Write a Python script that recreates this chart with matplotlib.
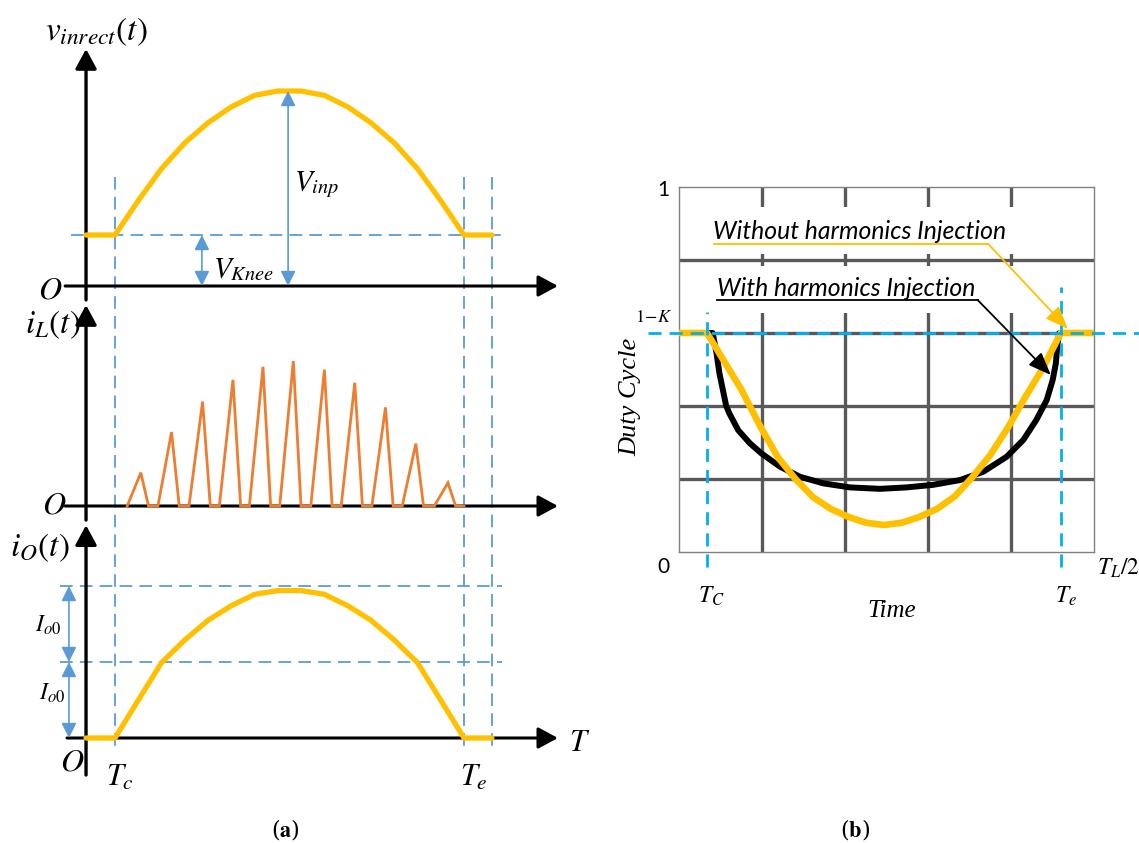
import matplotlib.pyplot as plt
from matplotlib import transforms
from matplotlib.patches import Rectangle

plt.rcParams['mathtext.fontset'] = 'stix'

W, H = 1139, 843

# ---- (a) waveforms, time normalised so that Tc = 0 and Te = 1 ----
t_origin = -0.083
t_c, t_e, t_end = 0.0, 1.0, 1.08

arc_t = [0.0, 0.067, 0.133, 0.2, 0.267, 0.333, 0.4, 0.467,
         0.533, 0.6, 0.667, 0.733, 0.8, 0.867, 0.933, 1.0]
# rectified input above the knee voltage, in units of V_inp
vin_arc = [0.0, 0.24, 0.46, 0.64, 0.78, 0.89, 0.97, 1.0,
           1.0, 0.97, 0.89, 0.78, 0.64, 0.46, 0.24, 0.0]
v_knee = 0.354
# output current, in units of I_o0
io_arc = [0.0, 0.50, 0.99, 1.29, 1.55, 1.74, 1.89, 1.94,
          1.94, 1.89, 1.74, 1.55, 1.29, 0.99, 0.50, 0.0]
io0 = 1.0
# inductor current peaks (DCM triangles), normalised to the largest one
spike_t = [0.074, 0.162, 0.251, 0.338, 0.424, 0.511, 0.600, 0.687, 0.775, 0.862, 0.954]
spike_h = [0.23, 0.51, 0.72, 0.87, 0.96, 1.0, 0.94, 0.85, 0.68, 0.43, 0.16]
t_rise, t_fall = 0.039, 0.022

# ---- (b) duty cycle over half a line period ----
b_tc, b_te = 0.0675, 0.920
one_minus_k = 0.6
gold_t = [0.0, 0.05, 0.10, 0.15, 0.20, 0.25, 0.30, 0.35, 0.40, 0.45, 0.50,
          0.55, 0.60, 0.65, 0.70, 0.75, 0.80, 0.85, 0.90, 0.95, 1.0]
gold_d = [0.600, 0.520, 0.440, 0.345, 0.260, 0.200, 0.150, 0.118, 0.096, 0.080, 0.074,
          0.080, 0.096, 0.118, 0.152, 0.205, 0.265, 0.340, 0.425, 0.505, 0.600]
black_t = [0.0, 0.016, 0.027, 0.035, 0.054, 0.063, 0.088, 0.121, 0.154, 0.206, 0.263,
           0.329, 0.404, 0.489, 0.564, 0.639, 0.715, 0.781, 0.847, 0.894, 0.931,
           0.960, 0.977, 0.986, 0.990, 0.995, 1.0]
black_d = [0.600, 0.600, 0.544, 0.490, 0.401, 0.380, 0.334, 0.298, 0.270, 0.234, 0.206,
           0.188, 0.177, 0.173, 0.177, 0.184, 0.197, 0.220, 0.261, 0.307, 0.362,
           0.416, 0.471, 0.517, 0.562, 0.599, 0.600]

GOLD = '#FFC000'
ORANGE = '#ED7D31'
LBLUE = '#5B9BD5'
CYAN = '#00B0F0'
GRID = '#595959'

fig = plt.figure(figsize=(W / 100, H / 100), dpi=100)


def add_px_axes(x0, y0, x1, y1):
    return fig.add_axes([x0 / W, 1 - y1 / H, (x1 - x0) / W, (y1 - y0) / H])


def ftext(x, y, s, **kw):
    return fig.text(x / W, 1 - y / H, s, **kw)


def panel_a_axes(y0, y1, base, scale):
    ax = add_px_axes(0, y0, 600, y1)
    ax.set_xlim(-115 / 349, 485 / 349)
    ax.set_ylim(-(y1 - base) / scale, (base - y0) / scale)
    ax.axis('off')
    return ax


def axis_arrow(ax, start, end, lw=2.4):
    ax.annotate('', xy=end, xytext=start, annotation_clip=False,
                arrowprops=dict(arrowstyle='-|>,head_length=1.2,head_width=0.65',
                                mutation_scale=10, lw=lw, color='k',
                                shrinkA=0, shrinkB=0))


def span_arrow(ax, x, y0, y1):
    ax.annotate('', xy=(x, y1), xytext=(x, y0), annotation_clip=False,
                arrowprops=dict(arrowstyle='<|-|>,head_length=0.9,head_width=0.45',
                                mutation_scale=10, lw=1.2, color=LBLUE,
                                shrinkA=0, shrinkB=0))


dash_a = dict(color=LBLUE, lw=1.3, dashes=(7, 4), clip_on=False)

ax_v = panel_a_axes(0, 298, 286, 144)
ax_i = panel_a_axes(298, 518, 506, 145)
ax_o = panel_a_axes(518, 843, 738, 76)

# axes with arrows
axis_arrow(ax_v, (t_origin, -0.097), (t_origin, 1.646))
axis_arrow(ax_v, (-0.143, 0), (1.269, 0), lw=2.2)
axis_arrow(ax_i, (t_origin, -0.097), (t_origin, 1.386))
axis_arrow(ax_i, (-0.143, 0), (1.269, 0), lw=2.2)
axis_arrow(ax_o, (t_origin, -0.487), (t_origin, 2.80))
axis_arrow(ax_o, (-0.1375, 0), (1.269, 0), lw=2.2)

# vertical dashed markers running through all three plots
trans = transforms.blended_transform_factory(ax_v.transData, fig.transFigure)
for tm in (t_c, t_e, t_end):
    ax_v.plot([tm, tm], [1 - 177 / H, 1 - 748 / H], transform=trans, **dash_a)

# rectified input voltage
ax_v.plot([-0.127, 1.11], [v_knee, v_knee], **dash_a)
ax_v.plot([t_origin] + arc_t + [t_end],
          [v_knee] + [v_knee + v for v in vin_arc] + [v_knee],
          color=GOLD, lw=3.8, solid_capstyle='round', solid_joinstyle='round',
          clip_on=False, zorder=3)
span_arrow(ax_v, 0.249, 0, v_knee)
span_arrow(ax_v, 0.496, 0, v_knee + max(vin_arc))

# inductor current
il_t, il_v = [], []
for tp, h in zip(spike_t, spike_h):
    il_t += [tp - t_rise, tp, tp + t_fall]
    il_v += [0, h, 0]
il_t.append(t_e)
il_v.append(0)
ax_i.plot(il_t, il_v, color=ORANGE, lw=2.0, solid_joinstyle='miter', zorder=3)

# output current
for lev in (io0, 2 * io0):
    ax_o.plot([-0.158, 1.11], [lev, lev], **dash_a)
ax_o.plot([t_origin] + arc_t + [t_end],
          [0] + io_arc + [0],
          color=GOLD, lw=3.8, solid_capstyle='round', solid_joinstyle='round',
          clip_on=False, zorder=3)
span_arrow(ax_o, -0.132, 0, io0)
span_arrow(ax_o, -0.132, io0, 2 * io0)

lab = dict(fontsize=24)
ftext(45, 40, r'$v_{inrect}(t)$', ha='left', va='baseline', **lab)
ftext(50, 290, r'$O$', ha='center', va='center', fontsize=23)
ftext(25, 333, r'$i_L(t)$', ha='left', va='baseline', **lab)
ftext(54, 505, r'$O$', ha='center', va='center', fontsize=23)
ftext(10, 556, r'$i_O(t)$', ha='left', va='baseline', **lab)
ftext(72, 762, r'$O$', ha='center', va='center', fontsize=23)
ftext(294, 190, r'$V_{inp}$', ha='left', va='baseline', fontsize=21)
ftext(213, 277, r'$V_{Knee}$', ha='left', va='baseline', fontsize=21)
ftext(35, 632, r'$I_{o0}$', ha='left', va='baseline', fontsize=17)
ftext(39, 700, r'$I_{o0}$', ha='left', va='baseline', fontsize=17)
ftext(106, 786, r'$T_c$', ha='left', va='baseline', fontsize=22)
ftext(460, 786, r'$T_e$', ha='left', va='baseline', fontsize=22)
ftext(569, 751, r'$T$', ha='left', va='baseline', fontsize=22)
ftext(285, 837, r'($\mathbf{a}$)', ha='center', va='baseline', fontsize=16,
      family='DejaVu Serif')

# ---- (b) ----
ax_b = add_px_axes(679, 187, 1094, 552)
ax_b.set_xlim(0, 1)
ax_b.set_ylim(0, 1)
ax_b.set_xticks([])
ax_b.set_yticks([])
for sp in ax_b.spines.values():
    sp.set_color('#808080')
    sp.set_linewidth(1.0)

for g in (0.2, 0.4, 0.6, 0.8):
    ax_b.axvline(g, color=GRID, lw=2.4, zorder=1)
# white label boxes hide the vertical grid behind the annotations
for y0, y1 in ((0.816, 0.945), (0.655, 0.784)):
    ax_b.add_patch(Rectangle((0.063, y0), 0.783, y1 - y0, facecolor='white',
                             edgecolor='none', zorder=1.5))
for g in (0.2, 0.4, 0.6, 0.8):
    ax_b.axhline(g, color=GRID, lw=2.4, zorder=2)

span = b_te - b_tc
ax_b.plot([0] + [b_tc + t * span for t in black_t] + [1],
          [one_minus_k] + black_d + [one_minus_k],
          color='black', lw=4.3, solid_joinstyle='round', zorder=3)
ax_b.plot([0] + [b_tc + t * span for t in gold_t] + [1],
          [one_minus_k] + gold_d + [one_minus_k],
          color=GOLD, lw=4.8, solid_joinstyle='round', zorder=3.5)

dash_b = dict(color=CYAN, lw=2.0, dashes=(4.7, 2.9), clip_on=False, zorder=5)
ax_b.plot([-0.075, 1.11], [one_minus_k, one_minus_k], **dash_b)
ax_b.plot([b_tc, b_tc], [-0.041, 0.658], **dash_b)
ax_b.plot([b_te, b_te], [-0.041, 0.726], **dash_b)

note = dict(family='Lato', style='italic', fontsize=17.8, ha='left', va='center', zorder=6)
ax_b.text(0.0819, 0.877, 'Without harmonics Injection', **note)
ax_b.text(0.0916, 0.723, 'With harmonics Injection', **note)
ax_b.plot([0.0843, 0.745], [0.844, 0.844], color=GOLD, lw=1.3, zorder=6)
ax_b.annotate('', xy=(0.937, 0.611), xytext=(0.745, 0.844), annotation_clip=False,
              arrowprops=dict(arrowstyle='-|>,head_length=1.4,head_width=0.55',
                              mutation_scale=10, lw=1.3, color=GOLD,
                              shrinkA=0, shrinkB=0), zorder=6)
ax_b.plot([0.0916, 0.720], [0.690, 0.690], color='black', lw=1.3, zorder=6)
ax_b.annotate('', xy=(0.896, 0.485), xytext=(0.720, 0.690), annotation_clip=False,
              arrowprops=dict(arrowstyle='-|>,head_length=1.4,head_width=0.55',
                              mutation_scale=10, lw=1.3, color='black',
                              shrinkA=0, shrinkB=0), zorder=6)

ftext(663, 190, '1', family='Lato', fontsize=15, ha='center', va='center')
ftext(663, 567, '0', family='Lato', fontsize=15, ha='center', va='center')
ftext(654, 317, r'$1\!-\!K$', fontsize=13, ha='center', va='center')
ftext(630, 397, 'Duty Cycle', family='Liberation Serif', style='italic',
      fontsize=19, rotation=90, ha='center', va='center')
ftext(892, 611, 'Time', family='Liberation Serif', style='italic',
      fontsize=18, ha='center', va='center')
ftext(698, 603, r'$T_C$', fontsize=17, ha='left', va='baseline')
ftext(1055, 603, r'$T_e$', fontsize=17, ha='left', va='baseline')
ftext(1097, 575, r'$T_L/2$', fontsize=17, ha='left', va='baseline')
ftext(855, 837, r'($\mathbf{b}$)', ha='center', va='baseline', fontsize=16,
      family='DejaVu Serif')

fig.savefig('out.png', dpi=100)
